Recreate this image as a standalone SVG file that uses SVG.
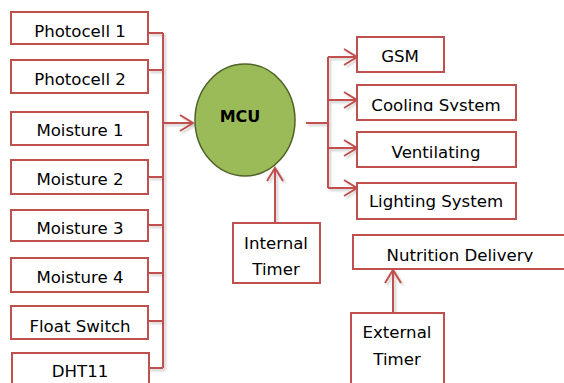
<svg xmlns="http://www.w3.org/2000/svg" width="564" height="383" viewBox="0 0 564 383">
  <defs>
    <style>
      .box { fill: #ffffff; stroke: #c0504d; stroke-width: 2; }
      .wire { fill: none; stroke: #c0504d; stroke-width: 2; }
      .lbl { font-family: "DejaVu Sans", Verdana, sans-serif; font-size: 16.6px; fill: #000000; text-anchor: middle; }
      .mcu { fill: #9bbb59; stroke: #4f6228; stroke-width: 1.5; }
    </style>
    <marker id="arrow" markerUnits="userSpaceOnUse" markerWidth="16" markerHeight="20" viewBox="0 0 16 20" refX="14" refY="10" orient="auto">
      <path d="M1,2 L14,10 L1,18" fill="none" stroke="#c0504d" stroke-width="2"/>
    </marker>
    <filter id="shade" x="-20%" y="-20%" width="140%" height="140%">
      <feDropShadow dx="2" dy="2" stdDeviation="1" flood-color="#000000" flood-opacity="0.2"/>
    </filter>
    <clipPath id="clipCooling"><rect x="357" y="85" width="160" height="26"/></clipPath>
    <clipPath id="clipNutrition"><rect x="353" y="235" width="215" height="27"/></clipPath>
  </defs>

  <rect width="564" height="383" fill="#ffffff"/>

  <!-- connectors -->
  <g id="connectors" filter="url(#shade)">
    <!-- input bus -->
    <path class="wire" d="M163,33 V368"/>
    <path class="wire" d="M148,33 H163 M148,70 H163 M148,177 H163 M148,225 H163 M148,273 H163 M148,321 H163 M148,368 H163"/>
    <path class="wire" d="M163,123 H193" marker-end="url(#arrow)"/>
    <!-- output bus -->
    <path class="wire" d="M306,123 H328 M328,57 V188"/>
    <path class="wire" d="M328,57 H357" marker-end="url(#arrow)"/>
    <path class="wire" d="M328,100 H357" marker-end="url(#arrow)"/>
    <path class="wire" d="M328,148 H357" marker-end="url(#arrow)"/>
    <path class="wire" d="M328,188 H357" marker-end="url(#arrow)"/>
    <!-- timers -->
    <path class="wire" d="M275,223 V168" marker-end="url(#arrow)"/>
    <path class="wire" d="M393,313 V270" marker-end="url(#arrow)"/>
  </g>

  <!-- inputs -->
  <g id="photocell1"><rect class="box" x="11" y="12" width="137" height="32"/><text class="lbl" x="80" y="37">Photocell 1</text></g>
  <g id="photocell2"><rect class="box" x="11" y="60" width="137" height="33"/><text class="lbl" x="80" y="85">Photocell 2</text></g>
  <g id="moisture1"><rect class="box" x="11" y="112" width="137" height="33"/><text class="lbl" x="80" y="136">Moisture 1</text></g>
  <g id="moisture2"><rect class="box" x="11" y="160" width="137" height="34"/><text class="lbl" x="80" y="185">Moisture 2</text></g>
  <g id="moisture3"><rect class="box" x="11" y="210" width="137" height="31"/><text class="lbl" x="80" y="234">Moisture 3</text></g>
  <g id="moisture4"><rect class="box" x="11" y="258" width="137" height="34"/><text class="lbl" x="80" y="283">Moisture 4</text></g>
  <g id="floatSwitch"><rect class="box" x="11" y="306" width="137" height="33"/><text class="lbl" x="80" y="332">Float Switch</text></g>
  <g id="dht11"><rect class="box" x="12" y="353" width="137" height="36"/><text class="lbl" x="80" y="377">DHT11</text></g>

  <!-- controller -->
  <g id="mcu">
    <ellipse class="mcu" cx="245" cy="120" rx="50" ry="56"/>
    <text x="240" y="122" font-family="'DejaVu Sans', Verdana, sans-serif" font-size="16" font-weight="bold" text-anchor="middle" fill="#000000">MCU</text>
  </g>

  <!-- outputs -->
  <g id="gsm"><rect class="box" x="357" y="37" width="87" height="35"/><text class="lbl" x="400" y="62">GSM</text></g>
  <g id="cooling"><rect class="box" x="357" y="85" width="159" height="35"/><text class="lbl" x="436" y="111" clip-path="url(#clipCooling)">Cooling System</text></g>
  <g id="ventilating"><rect class="box" x="357" y="132" width="159" height="35"/><text class="lbl" x="436" y="158">Ventilating</text></g>
  <g id="lighting"><rect class="box" x="357" y="183" width="159" height="36"/><text class="lbl" x="436" y="207">Lighting System</text></g>

  <!-- timers -->
  <g id="internalTimer"><rect class="box" x="233" y="223" width="87" height="60"/><text class="lbl" x="276" y="249">Internal</text><text class="lbl" x="276" y="275">Timer</text></g>
  <g id="nutrition"><rect class="box" x="353" y="235" width="215" height="34"/><text class="lbl" x="460" y="261" clip-path="url(#clipNutrition)">Nutrition Delivery</text></g>
  <g id="externalTimer"><rect class="box" x="351" y="313" width="93" height="76"/><text class="lbl" x="397" y="338">External</text><text class="lbl" x="397" y="365">Timer</text></g>
</svg>
